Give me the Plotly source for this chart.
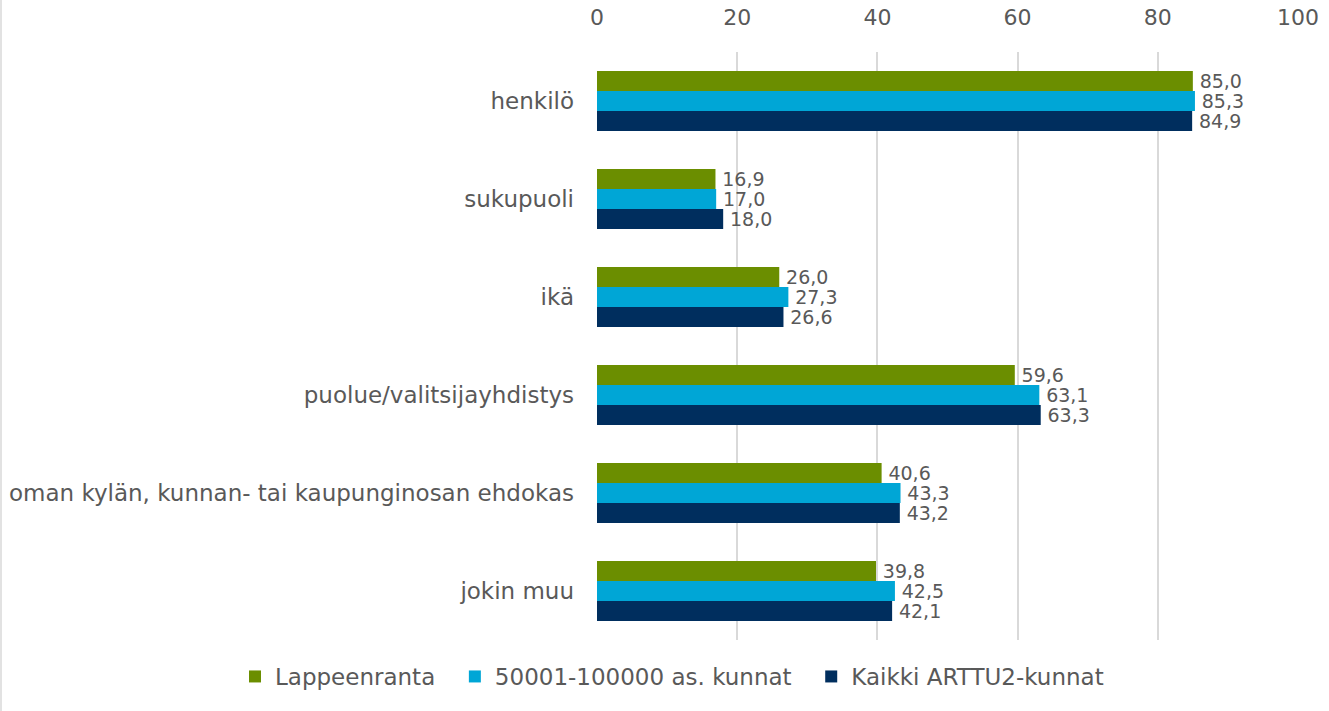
import plotly.graph_objects as go

categories = ["henkilö", "sukupuoli", "ikä", "puolue/valitsijayhdistys",
              "oman kylän, kunnan- tai kaupunginosan ehdokas", "jokin muu"]
series_names = ["Lappeenranta", "50001-100000 as. kunnat", "Kaikki ARTTU2-kunnat"]
lappeenranta = [85.0, 16.9, 26.0, 59.6, 40.6, 39.8]
kunnat_50_100 = [85.3, 17.0, 27.3, 63.1, 43.3, 42.5]
kaikki = [84.9, 18.0, 26.6, 63.3, 43.2, 42.1]
x_ticks = [0, 20, 40, 60, 80, 100]

colors = ["#6B8E00", "#00A6D6", "#002E5E"]
values = [lappeenranta, kunnat_50_100, kaikki]

FONT = "DejaVu Sans"
TXT = "#595959"
GAP = "\u00a0\u00a0"

fig = go.Figure()
for name, vals, col in zip(series_names, values, colors):
    fig.add_trace(go.Bar(
        y=categories, x=vals, name=name + GAP, orientation="h",
        marker=dict(color=col, line=dict(width=0)),
        texttemplate="\u2009%{x:.1f}", textposition="outside",
        textfont=dict(family=FONT, size=19, color=TXT),
        constraintext="none", cliponaxis=False,
    ))

PL, PT, PW, PH = 597, 52, 701, 588

fig.update_layout(
    width=1329, height=711,
    barmode="group", bargap=0.39, bargroupgap=0,
    separators=", ",
    paper_bgcolor="white", plot_bgcolor="white",
    margin=dict(l=PL, r=1329 - PL - PW, t=PT, b=711 - PT - PH),
    font=dict(family=FONT, size=22, color=TXT),
    xaxis=dict(side="top", range=[0, 100], tickvals=x_ticks,
               showgrid=True, gridcolor="#D9D9D9", gridwidth=1.5,
               zeroline=False, showline=False, ticks="", automargin=False,
               tickfont=dict(family=FONT, size=22, color=TXT),
               ticklabelstandoff=22),
    yaxis=dict(autorange="reversed", showgrid=False, showline=False,
               ticks="", automargin=False,
               tickfont=dict(family=FONT, size=23, color=TXT),
               ticklabelstandoff=22),
    legend=dict(orientation="h", xref="paper", x=(235 - PL) / PW, xanchor="left",
                yref="paper", y=-(698 - PT - PH) / PH, yanchor="bottom",
                font=dict(family=FONT, size=23, color=TXT),
                itemwidth=30, traceorder="normal"),
    shapes=[dict(type="line", xref="paper", yref="paper",
                 x0=(1 - PL) / PW, x1=(1 - PL) / PW,
                 y0=-(711 - PT - PH) / PH, y1=1 + PT / PH,
                 line=dict(color="#D9D9D9", width=1.5))],
)

fig.write_html("out.html", config={"displayModeBar": False},
               post_script="document.body.style.margin='0';")
